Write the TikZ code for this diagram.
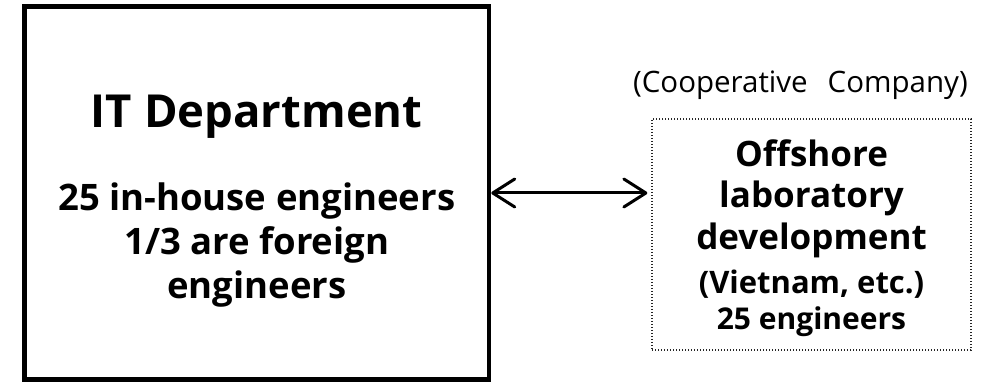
\documentclass[tikz,border=0pt]{standalone}
\usepackage{fontspec}
\setmainfont{Open Sans}
\usetikzlibrary{arrows.meta}
\tikzset{
  deptbox/.style={draw=black, line width=4.5pt, rectangle, inner sep=0pt},
  partnerbox/.style={draw=black!85, line width=1.3pt, dash pattern=on 1.3pt off 1.7pt, rectangle, inner sep=0pt},
  txt/.style={anchor=base, inner sep=0pt, font=\bfseries},
  link/.style={line width=3pt, {Straight Barb[length=22pt,width=28pt,round]}-{Straight Barb[length=22pt,width=28pt,round]}}
}
\begin{document}
\begin{tikzpicture}[x=1pt,y=1pt]
  \useasboundingbox (0,0) rectangle (992,382);
  % in-house department
  \node[deptbox, minimum width=464.5pt, minimum height=373pt] (dept) at (256.75,189) {};
  \node[txt, font=\bfseries\fontsize{45.5}{45.5}\selectfont] (deptname) at (256.75,254) {IT Department};
  \node[txt, font=\bfseries\fontsize{36.5}{36.5}\selectfont] (deptl1) at (256.75,171) {25 in-house engineers};
  \node[txt, font=\bfseries\fontsize{36.5}{36.5}\selectfont] (deptl2) at (256.75,127) {1/3 are foreign};
  \node[txt, font=\bfseries\fontsize{36.5}{36.5}\selectfont] (deptl3) at (256.75,83) {engineers};
  % partner company
  \node[partnerbox, minimum width=319pt, minimum height=231pt] (lab) at (811.5,147.5) {};
  \node[anchor=base east, inner sep=0pt, font=\fontsize{29.5}{29.5}\selectfont] (coop) at (968,289) {(Cooperative\hspace{20pt}Company)};
  \node[txt, font=\bfseries\fontsize{35}{35}\selectfont] (labl1) at (811.5,215) {Offshore};
  \node[txt, font=\bfseries\fontsize{35}{35}\selectfont] (labl2) at (811.5,174) {laboratory};
  \node[txt, font=\bfseries\fontsize{35}{35}\selectfont] (labl3) at (811.5,132) {development};
  \node[txt, font=\bfseries\fontsize{31}{31}\selectfont] (labl4) at (811.5,88) {(Vietnam, etc.)};
  \node[txt, font=\bfseries\fontsize{30}{30}\selectfont] (labl5) at (811.5,52) {25 engineers};
  % two-way link
  \coordinate (linkL) at (dept.east |- 0,189);
  \coordinate (linkR) at (lab.west |- 0,189);
  \draw[link, shorten >=4pt] (linkL) -- (linkR);
\end{tikzpicture}
\end{document}
